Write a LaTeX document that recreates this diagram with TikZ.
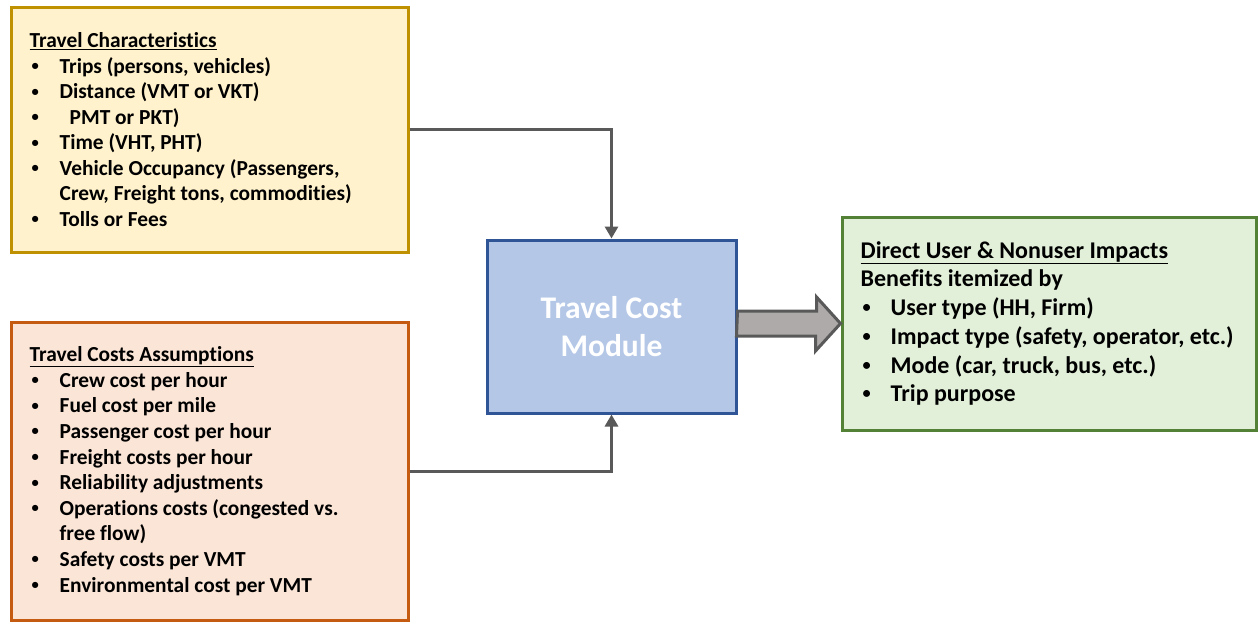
\documentclass[tikz,border=0pt]{standalone}
\usepackage{fontspec}
\setmainfont{Carlito}[RawFeature={-liga;-clig;-dlig;-calt;-rlig}]
\definecolor{charfill}{HTML}{FFF2CC}
\definecolor{chardraw}{HTML}{BF9000}
\definecolor{costfill}{HTML}{FBE5D6}
\definecolor{costdraw}{HTML}{C55A11}
\definecolor{modfill}{HTML}{B4C7E7}
\definecolor{moddraw}{HTML}{2F5597}
\definecolor{impfill}{HTML}{E2F0D9}
\definecolor{impdraw}{HTML}{538135}
\definecolor{linegray}{HTML}{595959}
\definecolor{arrowgray}{HTML}{AEAAAA}
\usetikzlibrary{arrows.meta}

\newcommand{\bitem}[1]{\makebox[30pt][l]{\hspace{2pt}\raisebox{0.12em}{\scalebox{0.68}{\textbullet}}}#1}
\newcommand{\bcont}[1]{\hspace*{30pt}#1}

\tikzset{
  panel/.style={draw, line width=3pt, inner sep=0pt},
  listtext/.style={align=left, inner sep=0pt, anchor=west},
  feed/.style={draw=linegray, line width=3pt, -{Triangle[length=12pt,width=13pt]}},
}

\begin{document}
\begin{tikzpicture}[x=1pt, y=-1pt]
  \useasboundingbox (0,0) rectangle (1259,622);

  % Travel characteristics
  \node[panel, draw=chardraw, fill=charfill, minimum width=397, minimum height=245] (chars) at (209.5,129.5) {};
  \node[listtext, font=\fontsize{21.4}{25.5}\selectfont\bfseries] (charstext) at ([xshift=20pt]chars.west) {
    \underline{Travel Characteristics}\\
    \bitem{Trips (persons, vehicles)}\\
    \bitem{Distance (VMT or VKT)}\\
    \bitem{\hspace{10pt}PMT or PKT)}\\
    \bitem{Time (VHT, PHT)}\\
    \bitem{Vehicle Occupancy (Passengers,}\\
    \bcont{Crew, Freight tons, commodities)}\\
    \bitem{Tolls or Fees}
  };

  % Travel cost assumptions
  \node[panel, draw=costdraw, fill=costfill, minimum width=397, minimum height=298] (costs) at (209.5,471) {};
  \node[listtext, font=\fontsize{21.4}{25.6}\selectfont\bfseries] (coststext) at ([xshift=20pt]costs.west) {
    \underline{Travel Costs Assumptions}\\
    \bitem{Crew cost per hour}\\
    \bitem{Fuel cost per mile}\\
    \bitem{Passenger cost per hour}\\
    \bitem{Freight costs per hour}\\
    \bitem{Reliability adjustments}\\
    \bitem{Operations costs (congested vs.}\\
    \bcont{free flow)}\\
    \bitem{Safety costs per VMT}\\
    \bitem{Environmental cost per VMT}
  };

  % Module
  \node[panel, draw=moddraw, fill=modfill, minimum width=249, minimum height=173, align=center,
        text=white, font=\fontsize{31.5}{38}\selectfont\bfseries] (module) at (611.5,326.5) {Travel Cost\\Module};

  % Impacts
  \node[panel, draw=impdraw, fill=impfill, minimum width=414, minimum height=213] (impacts) at (1049,323.5) {};
  \node[listtext, font=\fontsize{24}{28.7}\selectfont\bfseries] (impactstext) at ([xshift=20pt]impacts.west) {
    \underline{Direct User \& Nonuser Impacts}\\
    Benefits itemized by\\
    \bitem{User type (HH, Firm)}\\
    \bitem{Impact type (safety, operator, etc.)}\\
    \bitem{Mode (car, truck, bus, etc.)}\\
    \bitem{Trip purpose}
  };

  % Inputs into the module
  \draw[feed] (chars.east) -| (module.north);
  \draw[feed] (costs.east) -| (module.south);

  % Block arrow to the impacts
  \draw[draw=linegray, fill=arrowgray, line width=3pt, line join=miter]
    (module.east |- impacts.west) ++(0,-12.5) -- ++(79,0) -- ++(0,-14) -- (impacts.west)
    -- ++(-25,27.5) -- ++(0,-15) -- ++(-79,0) -- cycle;
\end{tikzpicture}
\end{document}
